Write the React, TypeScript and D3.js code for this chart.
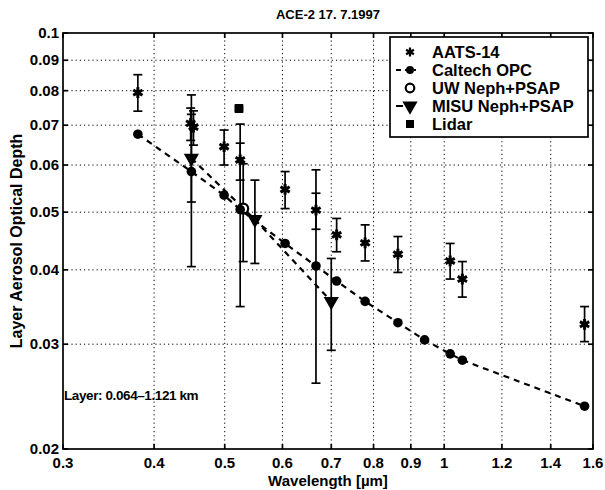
import React from "react";
import * as d3 from "d3";

// AATS-14 sunphotometer
const aatsWl = [0.380, 0.449, 0.453, 0.499, 0.525, 0.605, 0.667, 0.712, 0.779, 0.864, 1.019, 1.059, 1.558];
const aatsVal = [0.0794, 0.0705, 0.0695, 0.0644, 0.0612, 0.0546, 0.0504, 0.0458, 0.0444, 0.0425, 0.0414, 0.0386, 0.0324];
const aatsLo = [0.0739, 0.0660, 0.0648, 0.0600, 0.0566, 0.0507, 0.0468, 0.0429, 0.0414, 0.0396, 0.0386, 0.0360, 0.0303];
const aatsHi = [0.0851, 0.0748, 0.0740, 0.0687, 0.0653, 0.0585, 0.0538, 0.0488, 0.0476, 0.0455, 0.0443, 0.0413, 0.0347];

// Caltech OPC
const opcWl = [0.380, 0.450, 0.499, 0.525, 0.605, 0.667, 0.712, 0.779, 0.864, 0.940, 1.019, 1.059, 1.558];
const opcVal = [0.0676, 0.0585, 0.0534, 0.0505, 0.0443, 0.0406, 0.0383, 0.0354, 0.0326, 0.0305, 0.0289, 0.0282, 0.0236];
const opcLo = [null, 0.0405, null, 0.0347, null, 0.0258, null, null, null, null, null, null, null];
const opcHi = [null, 0.0787, null, 0.0703, null, 0.0589, null, null, null, null, null, null, null];

// UW Neph+PSAP
const uwWl = [0.530];
const uwVal = [0.0507];
const uwLo = [0.0413];
const uwHi = [0.0603];

// MISU Neph+PSAP
const misuWl = [0.45, 0.55, 0.70];
const misuVal = [0.0616, 0.0486, 0.0354];
const misuLo = [0.0520, 0.0410, 0.0293];
const misuHi = [0.0730, 0.0566, 0.0418];

// Lidar
const lidarWl = [0.523];
const lidarVal = [0.0747];

const xTicks = [0.3, 0.4, 0.5, 0.6, 0.7, 0.8, 0.9, 1, 1.2, 1.4, 1.6];
const yTicks = [0.02, 0.03, 0.04, 0.05, 0.06, 0.07, 0.08, 0.09, 0.1];
const legendItems = ["AATS-14", "Caltech OPC", "UW Neph+PSAP", "MISU Neph+PSAP", "Lidar"];

const W = 605;
const H = 490;
const font = "'Liberation Sans', Arial, sans-serif";

export default function App() {
  const x = d3.scaleLog().domain([0.3, 1.6]).range([63, 593]);
  const y = d3.scaleLog().domain([0.02, 0.1]).range([449, 33]);
  const [x0, x1] = x.range();
  const [y0, y1] = y.range();

  const star = d3.symbol().type(d3.symbolAsterisk).size(80)();
  const tri = d3.symbol().type(d3.symbolTriangle).size(100)();
  const line = d3.line<[number, number]>().x(d => x(d[0])).y(d => y(d[1]));

  const errBar = (wl: number, lo: number | null, hi: number | null, key: string) => {
    if (lo == null || hi == null) return null;
    const cx = x(wl);
    return (
      <g key={key} stroke="#000" strokeWidth={1.7}>
        <line x1={cx} x2={cx} y1={y(lo)} y2={y(hi)} />
        <line x1={cx - 4.5} x2={cx + 4.5} y1={y(lo)} y2={y(lo)} />
        <line x1={cx - 4.5} x2={cx + 4.5} y1={y(hi)} y2={y(hi)} />
      </g>
    );
  };

  const legX = 390;
  const legY = 37;
  const legRow = 18;

  return (
    <svg width={W} height={H} style={{ position: "absolute", left: 0, top: 0, background: "#fff" }}>
      <rect width={W} height={H} fill="#fff" />
      {/* grid */}
      <g stroke="#000" strokeWidth={1} strokeDasharray="1.2,3">
        {xTicks.slice(1, -1).map(t => (
          <line key={"gx" + t} x1={x(t)} x2={x(t)} y1={y0} y2={y1} />
        ))}
        {yTicks.slice(1, -1).map(t => (
          <line key={"gy" + t} x1={x0} x2={x1} y1={y(t)} y2={y(t)} />
        ))}
      </g>
      {/* error bars */}
      {opcWl.map((w, i) => errBar(w, opcLo[i], opcHi[i], "eo" + i))}
      {uwWl.map((w, i) => errBar(w, uwLo[i], uwHi[i], "eu" + i))}
      {misuWl.map((w, i) => errBar(w, misuLo[i], misuHi[i], "em" + i))}
      {aatsWl.map((w, i) => errBar(w, aatsLo[i], aatsHi[i], "ea" + i))}
      {/* UW */}
      {uwWl.map((w, i) => (
        <circle key={"uw" + i} cx={x(w)} cy={y(uwVal[i])} r={5} fill="#fff" stroke="#000" strokeWidth={2.2} />
      ))}
      {/* Caltech OPC */}
      <path d={line(opcWl.map((w, i) => [w, opcVal[i]]) as [number, number][]) || ""} fill="none" stroke="#000" strokeWidth={2.2} strokeDasharray="6,5" />
      {opcWl.map((w, i) => (
        <circle key={"opc" + i} cx={x(w)} cy={y(opcVal[i])} r={4.8} fill="#000" />
      ))}
      {/* MISU */}
      <path d={line(misuWl.map((w, i) => [w, misuVal[i]]) as [number, number][]) || ""} fill="none" stroke="#000" strokeWidth={2.2} strokeDasharray="6,5" />
      {misuWl.map((w, i) => (
        <path key={"misu" + i} d={tri} transform={`translate(${x(w)},${y(misuVal[i])}) rotate(180)`} fill="#000" />
      ))}
      {/* AATS */}
      {aatsWl.map((w, i) => (
        <g key={"aats" + i} transform={`translate(${x(w)},${y(aatsVal[i])})`}>
          <circle r={2.8} fill="#000" />
          <path d={star} fill="none" stroke="#000" strokeWidth={3} />
        </g>
      ))}
      {/* Lidar */}
      {lidarWl.map((w, i) => (
        <rect key={"lid" + i} x={x(w) - 4.5} y={y(lidarVal[i]) - 4.5} width={9} height={9} rx={1} fill="#000" />
      ))}
      {/* axes box and ticks */}
      <g stroke="#000" strokeWidth={1.7}>
        <rect x={x0} y={y1} width={x1 - x0} height={y0 - y1} fill="none" />
        {xTicks.map(t => (
          <g key={"tx" + t}>
            <line x1={x(t)} x2={x(t)} y1={y0} y2={y0 - 5} />
            <line x1={x(t)} x2={x(t)} y1={y1} y2={y1 + 5} />
          </g>
        ))}
        {yTicks.map(t => (
          <g key={"ty" + t}>
            <line x1={x0} x2={x0 + 5} y1={y(t)} y2={y(t)} />
            <line x1={x1} x2={x1 - 5} y1={y(t)} y2={y(t)} />
          </g>
        ))}
      </g>
      <g fontFamily={font} fontWeight="bold" fontSize={15} fill="#000">
        {xTicks.map(t => (
          <text key={"lx" + t} x={x(t)} y={y0 + 19} textAnchor="middle">{String(t)}</text>
        ))}
        {yTicks.map(t => (
          <text key={"ly" + t} x={x0 - 4} y={y(t) + 5} textAnchor="end">{String(t)}</text>
        ))}
        <text x={(x0 + x1) / 2} y={486} textAnchor="middle">Wavelength [µm]</text>
        <text transform={`translate(22,${(y0 + y1) / 2}) rotate(-90)`} textAnchor="middle" fontSize={16}>Layer Aerosol Optical Depth</text>
        <text x={(x0 + x1) / 2} y={19} textAnchor="middle" fontSize={13}>ACE-2 17. 7.1997</text>
        <text x={x0 + 1} y={400} fontSize={13.5} letterSpacing={-0.4}>Layer: 0.064–1.121 km</text>
      </g>
      {/* legend */}
      <g>
        <rect x={legX} y={legY} width={198} height={100} fill="#fff" stroke="#000" strokeWidth={1.7} />
        {legendItems.map((name, i) => {
          const cy = legY + 15 + i * legRow;
          const mx = legX + 20;
          let marker: React.ReactNode = null;
          if (i === 0)
            marker = (
              <g transform={`translate(${mx},${cy})`}>
                <circle r={2.5} fill="#000" />
                <path d={star} fill="none" stroke="#000" strokeWidth={2.6} transform="scale(0.85)" />
              </g>
            );
          if (i === 1)
            marker = (
              <g>
                <line x1={mx - 14} x2={mx + 6} y1={cy} y2={cy} stroke="#000" strokeWidth={2} strokeDasharray="5,4" />
                <circle cx={mx} cy={cy} r={4} fill="#000" />
              </g>
            );
          if (i === 2) marker = <circle cx={mx} cy={cy} r={4.3} fill="#fff" stroke="#000" strokeWidth={2.2} />;
          if (i === 3)
            marker = (
              <g>
                <line x1={mx - 14} x2={mx - 7} y1={cy} y2={cy} stroke="#000" strokeWidth={2} />
                <path d={tri} transform={`translate(${mx},${cy}) rotate(180)`} fill="#000" />
              </g>
            );
          if (i === 4) marker = <rect x={mx - 4} y={cy - 4} width={8} height={8} fill="#000" />;
          return (
            <g key={name}>
              {marker}
              <text x={legX + 42} y={cy + 6} fontFamily={font} fontWeight="bold" fontSize={16.5} fill="#000">{name}</text>
            </g>
          );
        })}
      </g>
    </svg>
  );
}
